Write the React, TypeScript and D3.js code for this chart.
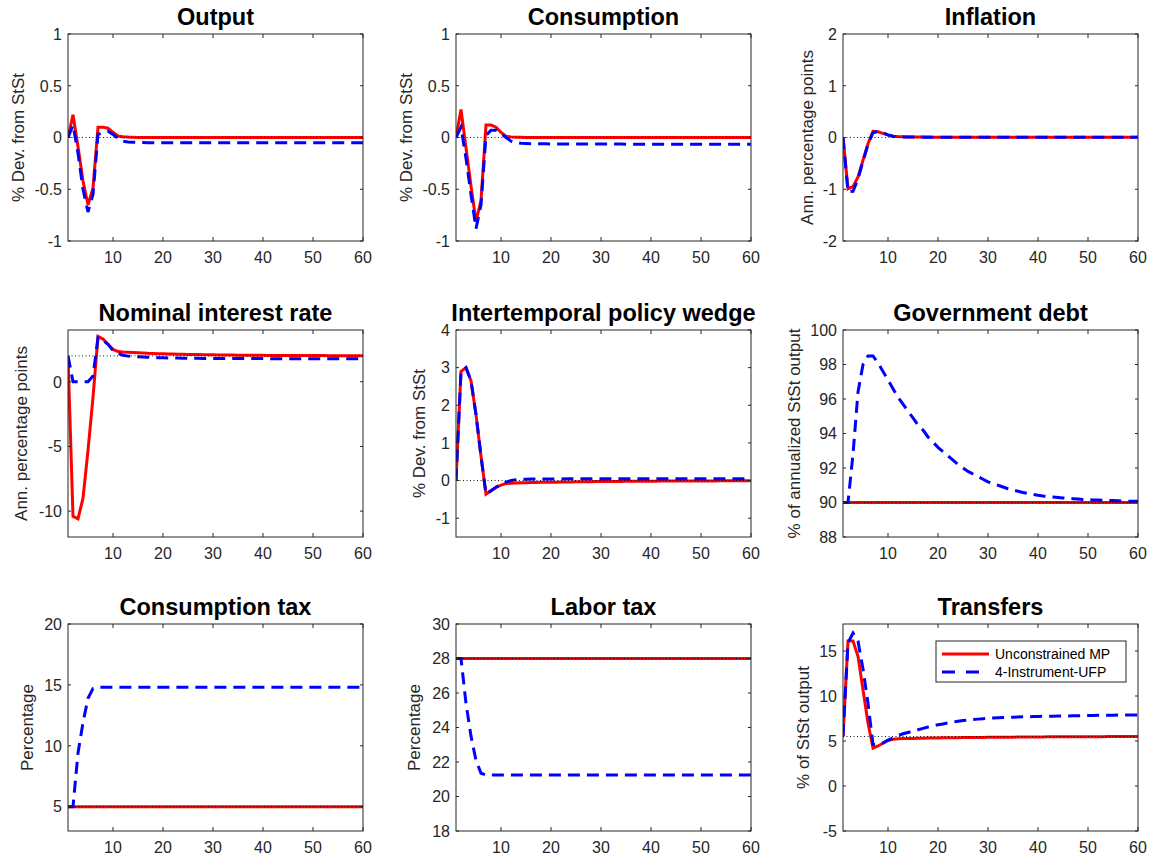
import React, { useEffect, useRef } from "react";
import * as d3 from "d3";

// panel titles / labels, row by row
const titles = [
  "Output",
  "Consumption",
  "Inflation",
  "Nominal interest rate",
  "Intertemporal policy wedge",
  "Government debt",
  "Consumption tax",
  "Labor tax",
  "Transfers",
];

const yLabels = [
  "% Dev. from StSt",
  "% Dev. from StSt",
  "Ann. percentage points",
  "Ann. percentage points",
  "% Dev. from StSt",
  "% of annualized StSt output",
  "Percentage",
  "Percentage",
  "% of StSt output",
];

const yDomains: [number, number][] = [
  [-1, 1],
  [-1, 1],
  [-2, 2],
  [-12, 4],
  [-1.5, 4],
  [88, 100],
  [3, 20],
  [18, 30],
  [-5, 18],
];

const yTicks = [
  [-1, -0.5, 0, 0.5, 1],
  [-1, -0.5, 0, 0.5, 1],
  [-2, -1, 0, 1, 2],
  [-10, -5, 0],
  [-1, 0, 1, 2, 3, 4],
  [88, 90, 92, 94, 96, 98, 100],
  [5, 10, 15, 20],
  [18, 20, 22, 24, 26, 28, 30],
  [-5, 0, 5, 10, 15],
];

const xTicks = [10, 20, 30, 40, 50, 60];

// steady state reference (dotted line)
const steadyState = [0, 0, 0, 2, 0, 90, 5, 28, 5.5];

const seriesNames = ["Unconstrained MP", "4-Instrument-UFP"];

// quarters 1..60
const outputMP = [
  0, 0.22, -0.09, -0.42, -0.65, -0.49, 0.1, 0.1, 0.09, 0.05,
  0.015, 0.008, 0.004, 0.002, 0.001, 0, 0, 0, 0, 0,
  0, 0, 0, 0, 0, 0, 0, 0, 0, 0,
  0, 0, 0, 0, 0, 0, 0, 0, 0, 0,
  0, 0, 0, 0, 0, 0, 0, 0, 0, 0,
  0, 0, 0, 0, 0, 0, 0, 0, 0, 0,
];
const outputUFP = [
  0, 0.12, -0.15, -0.5, -0.72, -0.55, 0.03, 0.05, 0.06, 0.03,
  -0.01, -0.035, -0.043, -0.046, -0.048, -0.049, -0.05, -0.05, -0.05, -0.05,
  -0.05, -0.05, -0.05, -0.05, -0.05, -0.05, -0.05, -0.05, -0.05, -0.05,
  -0.05, -0.05, -0.05, -0.05, -0.05, -0.05, -0.05, -0.05, -0.05, -0.05,
  -0.05, -0.05, -0.05, -0.05, -0.05, -0.05, -0.05, -0.05, -0.05, -0.05,
  -0.05, -0.05, -0.05, -0.05, -0.05, -0.05, -0.05, -0.05, -0.05, -0.05,
];

const consMP = [
  0, 0.27, -0.1, -0.47, -0.81, -0.61, 0.12, 0.12, 0.1, 0.05,
  0.012, 0.006, 0.003, 0.002, 0.001, 0, 0, 0, 0, 0,
  0, 0, 0, 0, 0, 0, 0, 0, 0, 0,
  0, 0, 0, 0, 0, 0, 0, 0, 0, 0,
  0, 0, 0, 0, 0, 0, 0, 0, 0, 0,
  0, 0, 0, 0, 0, 0, 0, 0, 0, 0,
];
const consUFP = [
  0, 0.1, -0.2, -0.55, -0.88, -0.65, 0.02, 0.07, 0.07, 0.04,
  0, -0.035, -0.05, -0.055, -0.058, -0.06, -0.06, -0.061, -0.061, -0.062,
  -0.062, -0.062, -0.063, -0.063, -0.063, -0.063, -0.064, -0.064, -0.064, -0.064,
  -0.064, -0.064, -0.064, -0.064, -0.065, -0.065, -0.065, -0.065, -0.065, -0.065,
  -0.065, -0.065, -0.065, -0.065, -0.065, -0.065, -0.065, -0.065, -0.065, -0.065,
  -0.065, -0.065, -0.065, -0.065, -0.065, -0.065, -0.065, -0.065, -0.065, -0.065,
];

const inflMP = [
  0, -0.99, -0.95, -0.76, -0.44, -0.12, 0.12, 0.11, 0.08, 0.045,
  0.025, 0.018, 0.014, 0.012, 0.01, 0.009, 0.008, 0.008, 0.007, 0.007,
  0.006, 0.006, 0.006, 0.006, 0.006, 0.006, 0.006, 0.006, 0.006, 0.006,
  0.005, 0.005, 0.005, 0.005, 0.005, 0.005, 0.005, 0.005, 0.005, 0.005,
  0.004, 0.004, 0.004, 0.004, 0.004, 0.004, 0.004, 0.004, 0.004, 0.004,
  0.003, 0.003, 0.003, 0.003, 0.003, 0.003, 0.003, 0.003, 0.003, 0.003,
];
const inflUFP = [
  0, -1.05, -1.04, -0.8, -0.46, -0.13, 0.09, 0.12, 0.09, 0.05,
  0.025, 0.016, 0.012, 0.01, 0.009, 0.008, 0.007, 0.007, 0.006, 0.006,
  0.006, 0.006, 0.006, 0.006, 0.006, 0.006, 0.006, 0.006, 0.006, 0.006,
  0.005, 0.005, 0.005, 0.005, 0.005, 0.005, 0.005, 0.005, 0.005, 0.005,
  0.004, 0.004, 0.004, 0.004, 0.004, 0.004, 0.004, 0.004, 0.004, 0.004,
  0.003, 0.003, 0.003, 0.003, 0.003, 0.003, 0.003, 0.003, 0.003, 0.003,
];

const rateMP = [
  2, -10.4, -10.6, -9.0, -5.3, -1.2, 3.5, 3.3, 2.9, 2.5,
  2.33, 2.3, 2.28, 2.26, 2.24, 2.22, 2.2, 2.19, 2.17, 2.16,
  2.15, 2.14, 2.13, 2.12, 2.11, 2.1, 2.1, 2.09, 2.08, 2.08,
  2.07, 2.07, 2.06, 2.06, 2.05, 2.05, 2.05, 2.04, 2.04, 2.04,
  2.03, 2.03, 2.03, 2.03, 2.03, 2.02, 2.02, 2.02, 2.02, 2.02,
  2.02, 2.02, 2.01, 2.01, 2.01, 2.01, 2.01, 2.01, 2.01, 2.01,
];
const rateUFP = [
  2, 0, 0, 0, 0, 0.45, 3.4, 3.2, 2.9, 2.4,
  2.2, 2.05, 1.98, 1.95, 1.93, 1.91, 1.89, 1.88, 1.86, 1.85,
  1.84, 1.83, 1.83, 1.82, 1.82, 1.81, 1.81, 1.8, 1.8, 1.8,
  1.79, 1.79, 1.79, 1.79, 1.79, 1.79, 1.79, 1.79, 1.79, 1.79,
  1.78, 1.78, 1.78, 1.78, 1.78, 1.78, 1.78, 1.78, 1.78, 1.78,
  1.78, 1.78, 1.78, 1.78, 1.78, 1.78, 1.78, 1.78, 1.78, 1.78,
];

const wedgeMP = [
  0, 2.9, 3.0, 2.65, 1.75, 0.65, -0.36, -0.27, -0.18, -0.12,
  -0.08, -0.07, -0.065, -0.06, -0.057, -0.054, -0.051, -0.048, -0.046, -0.044,
  -0.042, -0.04, -0.038, -0.036, -0.034, -0.032, -0.031, -0.03, -0.028, -0.027,
  -0.026, -0.025, -0.024, -0.023, -0.022, -0.021, -0.02, -0.019, -0.018, -0.017,
  -0.016, -0.015, -0.015, -0.014, -0.013, -0.013, -0.012, -0.011, -0.011, -0.01,
  -0.01, -0.009, -0.009, -0.008, -0.008, -0.007, -0.007, -0.006, -0.006, -0.005,
];
const wedgeUFP = [
  0, 2.9, 3.0, 2.65, 1.75, 0.65, -0.36, -0.27, -0.18, -0.1,
  -0.04, 0, 0.02, 0.03, 0.035, 0.038, 0.04, 0.041, 0.042, 0.043,
  0.044, 0.044, 0.045, 0.045, 0.045, 0.045, 0.045, 0.045, 0.045, 0.045,
  0.045, 0.045, 0.045, 0.045, 0.045, 0.045, 0.045, 0.045, 0.045, 0.045,
  0.045, 0.045, 0.045, 0.045, 0.045, 0.045, 0.045, 0.045, 0.045, 0.045,
  0.045, 0.045, 0.045, 0.045, 0.045, 0.045, 0.045, 0.045, 0.045, 0.045,
];

const debtMP = [
  90, 90, 90, 90, 90, 90, 90, 90, 90, 90,
  90, 90, 90, 90, 90, 90, 90, 90, 90, 90,
  90, 90, 90, 90, 90, 90, 90, 90, 90, 90,
  90, 90, 90, 90, 90, 90, 90, 90, 90, 90,
  90, 90, 90, 90, 90, 90, 90, 90, 90, 90,
  90, 90, 90, 90, 90, 90, 90, 90, 90, 90,
];
const debtUFP = [
  90, 90, 92.8, 96.4, 98.0, 98.5, 98.5, 98.1, 97.6, 97.1,
  96.6, 96.1, 95.7, 95.3, 94.9, 94.5, 94.2, 93.8, 93.5, 93.2,
  92.95, 92.7, 92.45, 92.2, 92.0, 91.8, 91.65, 91.5, 91.35, 91.2,
  91.1, 91.0, 90.9, 90.8, 90.72, 90.65, 90.58, 90.52, 90.47, 90.42,
  90.38, 90.35, 90.32, 90.29, 90.26, 90.24, 90.22, 90.2, 90.18, 90.17,
  90.15, 90.14, 90.13, 90.12, 90.11, 90.1, 90.09, 90.08, 90.07, 90.07,
];

const cTaxMP = [
  5, 5, 5, 5, 5, 5, 5, 5, 5, 5,
  5, 5, 5, 5, 5, 5, 5, 5, 5, 5,
  5, 5, 5, 5, 5, 5, 5, 5, 5, 5,
  5, 5, 5, 5, 5, 5, 5, 5, 5, 5,
  5, 5, 5, 5, 5, 5, 5, 5, 5, 5,
  5, 5, 5, 5, 5, 5, 5, 5, 5, 5,
];
const cTaxUFP = [
  5, 5, 9.4, 11.9, 13.9, 14.7, 14.8, 14.8, 14.8, 14.8,
  14.8, 14.8, 14.8, 14.8, 14.8, 14.8, 14.8, 14.8, 14.8, 14.8,
  14.8, 14.8, 14.8, 14.8, 14.8, 14.8, 14.8, 14.8, 14.8, 14.8,
  14.8, 14.8, 14.8, 14.8, 14.8, 14.8, 14.8, 14.8, 14.8, 14.8,
  14.8, 14.8, 14.8, 14.8, 14.8, 14.8, 14.8, 14.8, 14.8, 14.8,
  14.8, 14.8, 14.8, 14.8, 14.8, 14.8, 14.8, 14.8, 14.8, 14.8,
];

const lTaxMP = [
  28, 28, 28, 28, 28, 28, 28, 28, 28, 28,
  28, 28, 28, 28, 28, 28, 28, 28, 28, 28,
  28, 28, 28, 28, 28, 28, 28, 28, 28, 28,
  28, 28, 28, 28, 28, 28, 28, 28, 28, 28,
  28, 28, 28, 28, 28, 28, 28, 28, 28, 28,
  28, 28, 28, 28, 28, 28, 28, 28, 28, 28,
];
const lTaxUFP = [
  28, 28, 25.4, 23.5, 22.1, 21.35, 21.25, 21.25, 21.25, 21.25,
  21.25, 21.25, 21.25, 21.25, 21.25, 21.25, 21.25, 21.25, 21.25, 21.25,
  21.25, 21.25, 21.25, 21.25, 21.25, 21.25, 21.25, 21.25, 21.25, 21.25,
  21.25, 21.25, 21.25, 21.25, 21.25, 21.25, 21.25, 21.25, 21.25, 21.25,
  21.25, 21.25, 21.25, 21.25, 21.25, 21.25, 21.25, 21.25, 21.25, 21.25,
  21.25, 21.25, 21.25, 21.25, 21.25, 21.25, 21.25, 21.25, 21.25, 21.25,
];

const transMP = [
  5.5, 16.1, 16.1, 14.4, 10.7, 7.0, 4.2, 4.45, 4.75, 5.05,
  5.2, 5.25, 5.27, 5.28, 5.29, 5.3, 5.31, 5.32, 5.33, 5.34,
  5.35, 5.36, 5.37, 5.37, 5.38, 5.39, 5.39, 5.4, 5.4, 5.41,
  5.41, 5.42, 5.42, 5.43, 5.43, 5.44, 5.44, 5.44, 5.45, 5.45,
  5.45, 5.46, 5.46, 5.46, 5.47, 5.47, 5.47, 5.47, 5.48, 5.48,
  5.48, 5.48, 5.48, 5.49, 5.49, 5.49, 5.49, 5.49, 5.49, 5.5,
];
const transUFP = [
  5.5, 15.9, 17.0, 16.1, 13.0, 9.2, 4.6, 4.6, 4.8, 5.1,
  5.35, 5.6, 5.8, 5.95, 6.1, 6.25, 6.4, 6.55, 6.68, 6.8,
  6.9, 7.0, 7.1, 7.2, 7.28, 7.33, 7.38, 7.43, 7.48, 7.52,
  7.55, 7.58, 7.61, 7.63, 7.65, 7.67, 7.69, 7.7, 7.71, 7.72,
  7.74, 7.75, 7.76, 7.77, 7.78, 7.79, 7.8, 7.81, 7.82, 7.83,
  7.84, 7.85, 7.86, 7.86, 7.87, 7.88, 7.88, 7.89, 7.89, 7.9,
];

const mpSeries = [outputMP, consMP, inflMP, rateMP, wedgeMP, debtMP, cTaxMP, lTaxMP, transMP];
const ufpSeries = [outputUFP, consUFP, inflUFP, rateUFP, wedgeUFP, debtUFP, cTaxUFP, lTaxUFP, transUFP];

// layout
const colLeft = [68, 456, 843];
const rowTop = [34, 330, 624];
const plotW = 295;
const plotH = 207;
// distance from axes left edge to the centre of the rotated y label
const yLabelOffset = [49.5, 50, 36, 47, 37, 48.5, 41, 42, 40];

const FONT = "'Liberation Sans', Arial, Helvetica, sans-serif";
const AXIS = "#262626";
const RED = "#ff0000";
const BLUE = "#0000ff";

function fmt(v: number) {
  return String(v);
}

export default function App() {
  const ref = useRef<SVGSVGElement>(null);

  useEffect(() => {
    const svg = d3.select(ref.current);
    svg.selectAll("*").remove();

    titles.forEach((title, i) => {
      const col = i % 3;
      const row = Math.floor(i / 3);
      const left = colLeft[col];
      const top = rowTop[row];

      const x = d3.scaleLinear().domain([1, 60]).range([left, left + plotW]);
      const y = d3.scaleLinear().domain(yDomains[i]).range([top + plotH, top]);

      const g = svg.append("g");

      g.append("clipPath")
        .attr("id", "clip" + i)
        .append("rect")
        .attr("x", left)
        .attr("y", top)
        .attr("width", plotW)
        .attr("height", plotH);

      const line = d3
        .line<number>()
        .x((d, k) => x(k + 1))
        .y(d => y(d));

      const lines = g.append("g").attr("clip-path", "url(#clip" + i + ")");

      lines
        .append("path")
        .attr("d", line(mpSeries[i]))
        .attr("fill", "none")
        .attr("stroke", RED)
        .attr("stroke-width", 3);

      lines
        .append("path")
        .attr("d", line(ufpSeries[i]))
        .attr("fill", "none")
        .attr("stroke", BLUE)
        .attr("stroke-width", 3)
        .attr("stroke-dasharray", "12,7");

      lines
        .append("line")
        .attr("x1", x(1))
        .attr("x2", x(60))
        .attr("y1", y(steadyState[i]))
        .attr("y2", y(steadyState[i]))
        .attr("stroke", "#000")
        .attr("stroke-width", 0.9)
        .attr("stroke-dasharray", "1,2.5");

      // box
      g.append("rect")
        .attr("x", left)
        .attr("y", top)
        .attr("width", plotW)
        .attr("height", plotH)
        .attr("fill", "none")
        .attr("stroke", AXIS)
        .attr("stroke-width", 1);

      // x ticks (bottom + mirrored top)
      xTicks.forEach(t => {
        const px = x(t);
        g.append("line")
          .attr("x1", px).attr("x2", px)
          .attr("y1", top + plotH).attr("y2", top + plotH - 4)
          .attr("stroke", AXIS);
        g.append("line")
          .attr("x1", px).attr("x2", px)
          .attr("y1", top).attr("y2", top + 4)
          .attr("stroke", AXIS);
        g.append("text")
          .attr("x", px)
          .attr("y", top + plotH + 22)
          .attr("text-anchor", "middle")
          .attr("font-family", FONT)
          .attr("font-size", 16)
          .attr("fill", AXIS)
          .text(fmt(t));
      });

      // y ticks (left + mirrored right)
      yTicks[i].forEach(t => {
        const py = y(t);
        g.append("line")
          .attr("x1", left).attr("x2", left + 3)
          .attr("y1", py).attr("y2", py)
          .attr("stroke", AXIS);
        g.append("line")
          .attr("x1", left + plotW).attr("x2", left + plotW - 3)
          .attr("y1", py).attr("y2", py)
          .attr("stroke", AXIS);
        g.append("text")
          .attr("x", left - 6)
          .attr("y", py)
          .attr("dy", "0.36em")
          .attr("text-anchor", "end")
          .attr("font-family", FONT)
          .attr("font-size", 16)
          .attr("fill", AXIS)
          .text(fmt(t));
      });

      // title
      g.append("text")
        .attr("x", left + plotW / 2)
        .attr("y", top - 9)
        .attr("text-anchor", "middle")
        .attr("font-family", FONT)
        .attr("font-size", 23.5)
        .attr("font-weight", "bold")
        .attr("fill", "#000")
        .text(title);

      // y label
      const cx = left - yLabelOffset[i];
      const cy = top + plotH / 2;
      g.append("text")
        .attr("transform", "translate(" + cx + "," + cy + ") rotate(-90)")
        .attr("text-anchor", "middle")
        .attr("dy", "0.35em")
        .attr("font-family", FONT)
        .attr("font-size", 17)
        .attr("fill", AXIS)
        .text(yLabels[i]);
    });

    // legend (inside Transfers panel)
    const lg = svg.append("g");
    lg.append("rect")
      .attr("x", 936)
      .attr("y", 641)
      .attr("width", 190)
      .attr("height", 41)
      .attr("fill", "#fff")
      .attr("stroke", AXIS)
      .attr("stroke-width", 1);

    seriesNames.forEach((name, k) => {
      const ly = 654 + k * 18;
      lg.append("line")
        .attr("x1", 942)
        .attr("x2", 989)
        .attr("y1", ly)
        .attr("y2", ly)
        .attr("stroke", k === 0 ? RED : BLUE)
        .attr("stroke-width", 3)
        .attr("stroke-dasharray", k === 0 ? null : "13,11");
      lg.append("text")
        .attr("x", 995)
        .attr("y", ly)
        .attr("dy", "0.36em")
        .attr("font-family", FONT)
        .attr("font-size", 14)
        .attr("fill", "#000")
        .text(name);
    });
  }, []);

  return (
    <svg
      ref={ref}
      width={1151}
      height={860}
      style={{ position: "absolute", left: 0, top: 0, background: "#fff" }}
    />
  );
}
